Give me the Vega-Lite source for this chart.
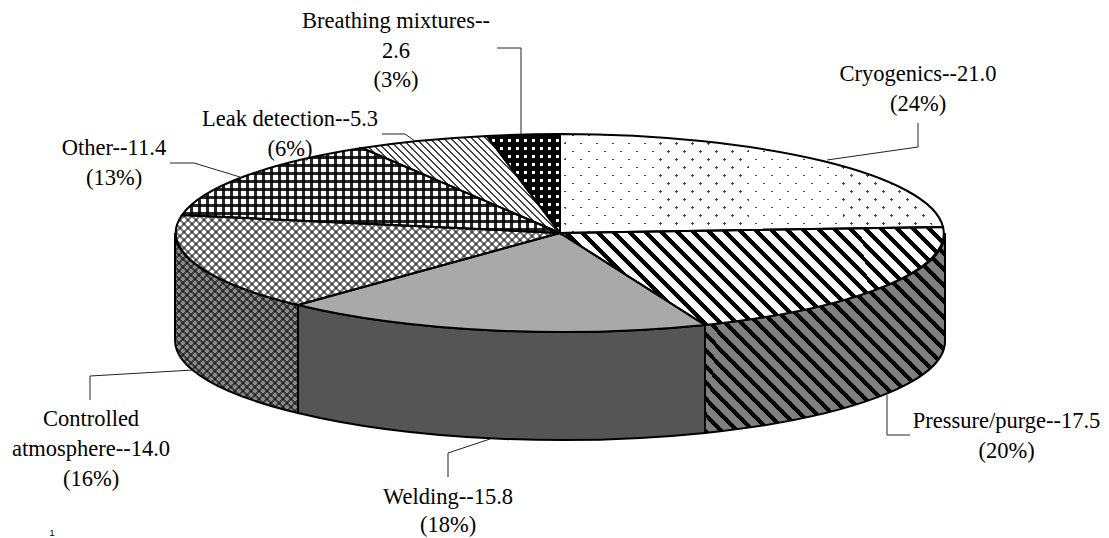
{
"$schema":"https://vega.github.io/schema/vega-lite/v6.json",
"width":1109,"height":538,"padding":0,"autosize":{"type":"none"},"background":"#ffffff",
"config":{"view":{"stroke":null},"axis":{"disable":true},"legend":{"disable":true}},
"data":{"values":[
{"slice":"Cryogenics","value":21.0,"share":24,"label":"Cryogenics--21.0\n(24%)"},
{"slice":"Pressure/purge","value":17.5,"share":20,"label":"Pressure/purge--17.5\n(20%)"},
{"slice":"Welding","value":15.8,"share":18,"label":"Welding--15.8\n(18%)"},
{"slice":"Controlled atmosphere","value":14.0,"share":16,"label":"Controlled\natmosphere--14.0\n(16%)"},
{"slice":"Other","value":11.4,"share":13,"label":"Other--11.4\n(13%)"},
{"slice":"Leak detection","value":5.3,"share":6,"label":"Leak detection--5.3\n(6%)"},
{"slice":"Breathing mixtures","value":2.6,"share":3,"label":"Breathing mixtures--\n2.6\n(3%)"}
]},
"params":[
{"name":"A","value":[
{"offset":0,"color":"#000"},{"offset":0.006,"color":"#000"},{"offset":0.006,"color":"#0000"},{"offset":0.016,"color":"#0000"},
{"offset":0.016,"color":"#000"},{"offset":0.022,"color":"#000"},{"offset":0.022,"color":"#0000"},{"offset":0.032,"color":"#0000"},
{"offset":0.032,"color":"#000"},{"offset":0.038,"color":"#000"},{"offset":0.038,"color":"#0000"},{"offset":0.048,"color":"#0000"},
{"offset":0.048,"color":"#000"},{"offset":0.054,"color":"#000"},{"offset":0.054,"color":"#0000"},{"offset":0.064,"color":"#0000"},
{"offset":0.064,"color":"#000"},{"offset":0.07,"color":"#000"},{"offset":0.07,"color":"#0000"},{"offset":0.08,"color":"#0000"},
{"offset":0.08,"color":"#000"},{"offset":0.086,"color":"#000"},{"offset":0.086,"color":"#0000"},{"offset":0.096,"color":"#0000"},
{"offset":0.096,"color":"#000"},{"offset":0.102,"color":"#000"},{"offset":0.102,"color":"#0000"},{"offset":0.112,"color":"#0000"},
{"offset":0.112,"color":"#000"},{"offset":0.118,"color":"#000"},{"offset":0.118,"color":"#0000"},{"offset":0.128,"color":"#0000"},
{"offset":0.128,"color":"#000"},{"offset":0.134,"color":"#000"},{"offset":0.134,"color":"#0000"},{"offset":0.144,"color":"#0000"},
{"offset":0.144,"color":"#000"},{"offset":0.15,"color":"#000"},{"offset":0.15,"color":"#0000"},{"offset":0.16,"color":"#0000"},
{"offset":0.16,"color":"#000"},{"offset":0.166,"color":"#000"},{"offset":0.166,"color":"#0000"},{"offset":0.176,"color":"#0000"},
{"offset":0.176,"color":"#000"},{"offset":0.182,"color":"#000"},{"offset":0.182,"color":"#0000"},{"offset":0.192,"color":"#0000"},
{"offset":0.192,"color":"#000"},{"offset":0.198,"color":"#000"},{"offset":0.198,"color":"#0000"},{"offset":0.208,"color":"#0000"},
{"offset":0.208,"color":"#000"},{"offset":0.214,"color":"#000"},{"offset":0.214,"color":"#0000"},{"offset":0.224,"color":"#0000"},
{"offset":0.224,"color":"#000"},{"offset":0.23,"color":"#000"},{"offset":0.23,"color":"#0000"},{"offset":0.24,"color":"#0000"},
{"offset":0.24,"color":"#000"},{"offset":0.246,"color":"#000"},{"offset":0.246,"color":"#0000"},{"offset":0.256,"color":"#0000"},
{"offset":0.256,"color":"#000"},{"offset":0.262,"color":"#000"},{"offset":0.262,"color":"#0000"},{"offset":0.272,"color":"#0000"},
{"offset":0.272,"color":"#000"},{"offset":0.278,"color":"#000"},{"offset":0.278,"color":"#0000"},{"offset":0.288,"color":"#0000"},
{"offset":0.288,"color":"#000"},{"offset":0.294,"color":"#000"},{"offset":0.294,"color":"#0000"},{"offset":0.304,"color":"#0000"},
{"offset":0.304,"color":"#000"},{"offset":0.31,"color":"#000"},{"offset":0.31,"color":"#0000"},{"offset":0.32,"color":"#0000"},
{"offset":0.32,"color":"#000"},{"offset":0.326,"color":"#000"},{"offset":0.326,"color":"#0000"},{"offset":0.336,"color":"#0000"},
{"offset":0.336,"color":"#000"},{"offset":0.342,"color":"#000"},{"offset":0.342,"color":"#0000"},{"offset":0.352,"color":"#0000"},
{"offset":0.352,"color":"#000"},{"offset":0.358,"color":"#000"},{"offset":0.358,"color":"#0000"},{"offset":0.368,"color":"#0000"},
{"offset":0.368,"color":"#000"},{"offset":0.374,"color":"#000"},{"offset":0.374,"color":"#0000"},{"offset":0.384,"color":"#0000"},
{"offset":0.384,"color":"#000"},{"offset":0.39,"color":"#000"},{"offset":0.39,"color":"#0000"},{"offset":0.4,"color":"#0000"},
{"offset":0.4,"color":"#000"},{"offset":0.406,"color":"#000"},{"offset":0.406,"color":"#0000"},{"offset":0.416,"color":"#0000"},
{"offset":0.416,"color":"#000"},{"offset":0.422,"color":"#000"},{"offset":0.422,"color":"#0000"},{"offset":0.432,"color":"#0000"},
{"offset":0.432,"color":"#000"},{"offset":0.438,"color":"#000"},{"offset":0.438,"color":"#0000"},{"offset":0.448,"color":"#0000"},
{"offset":0.448,"color":"#000"},{"offset":0.454,"color":"#000"},{"offset":0.454,"color":"#0000"},{"offset":0.464,"color":"#0000"},
{"offset":0.464,"color":"#000"},{"offset":0.47,"color":"#000"},{"offset":0.47,"color":"#0000"},{"offset":0.48,"color":"#0000"},
{"offset":0.48,"color":"#000"},{"offset":0.486,"color":"#000"},{"offset":0.486,"color":"#0000"},{"offset":0.496,"color":"#0000"},
{"offset":0.496,"color":"#000"},{"offset":0.502,"color":"#000"},{"offset":0.502,"color":"#0000"},{"offset":0.512,"color":"#0000"},
{"offset":0.512,"color":"#000"},{"offset":0.518,"color":"#000"},{"offset":0.518,"color":"#0000"},{"offset":0.528,"color":"#0000"},
{"offset":0.528,"color":"#000"},{"offset":0.534,"color":"#000"},{"offset":0.534,"color":"#0000"},{"offset":0.544,"color":"#0000"},
{"offset":0.544,"color":"#000"},{"offset":0.55,"color":"#000"},{"offset":0.55,"color":"#0000"},{"offset":0.56,"color":"#0000"},
{"offset":0.56,"color":"#000"},{"offset":0.566,"color":"#000"},{"offset":0.566,"color":"#0000"},{"offset":0.576,"color":"#0000"},
{"offset":0.576,"color":"#000"},{"offset":0.582,"color":"#000"},{"offset":0.582,"color":"#0000"},{"offset":0.592,"color":"#0000"},
{"offset":0.592,"color":"#000"},{"offset":0.598,"color":"#000"},{"offset":0.598,"color":"#0000"},{"offset":0.608,"color":"#0000"},
{"offset":0.608,"color":"#000"},{"offset":0.614,"color":"#000"},{"offset":0.614,"color":"#0000"},{"offset":0.624,"color":"#0000"},
{"offset":0.624,"color":"#000"},{"offset":0.63,"color":"#000"},{"offset":0.63,"color":"#0000"},{"offset":0.64,"color":"#0000"},
{"offset":0.64,"color":"#000"},{"offset":0.646,"color":"#000"},{"offset":0.646,"color":"#0000"},{"offset":0.656,"color":"#0000"},
{"offset":0.656,"color":"#000"},{"offset":0.662,"color":"#000"},{"offset":0.662,"color":"#0000"},{"offset":0.672,"color":"#0000"},
{"offset":0.672,"color":"#000"},{"offset":0.678,"color":"#000"},{"offset":0.678,"color":"#0000"},{"offset":0.688,"color":"#0000"},
{"offset":0.688,"color":"#000"},{"offset":0.694,"color":"#000"},{"offset":0.694,"color":"#0000"},{"offset":0.704,"color":"#0000"},
{"offset":0.704,"color":"#000"},{"offset":0.71,"color":"#000"},{"offset":0.71,"color":"#0000"},{"offset":0.72,"color":"#0000"},
{"offset":0.72,"color":"#000"},{"offset":0.726,"color":"#000"},{"offset":0.726,"color":"#0000"},{"offset":0.736,"color":"#0000"},
{"offset":0.736,"color":"#000"},{"offset":0.742,"color":"#000"},{"offset":0.742,"color":"#0000"},{"offset":0.752,"color":"#0000"},
{"offset":0.752,"color":"#000"},{"offset":0.758,"color":"#000"},{"offset":0.758,"color":"#0000"},{"offset":0.768,"color":"#0000"},
{"offset":0.768,"color":"#000"},{"offset":0.774,"color":"#000"},{"offset":0.774,"color":"#0000"},{"offset":0.784,"color":"#0000"},
{"offset":0.784,"color":"#000"},{"offset":0.79,"color":"#000"},{"offset":0.79,"color":"#0000"},{"offset":0.8,"color":"#0000"},
{"offset":0.8,"color":"#000"},{"offset":0.806,"color":"#000"},{"offset":0.806,"color":"#0000"},{"offset":0.816,"color":"#0000"},
{"offset":0.816,"color":"#000"},{"offset":0.822,"color":"#000"},{"offset":0.822,"color":"#0000"},{"offset":0.832,"color":"#0000"},
{"offset":0.832,"color":"#000"},{"offset":0.838,"color":"#000"},{"offset":0.838,"color":"#0000"},{"offset":0.848,"color":"#0000"},
{"offset":0.848,"color":"#000"},{"offset":0.854,"color":"#000"},{"offset":0.854,"color":"#0000"},{"offset":0.864,"color":"#0000"},
{"offset":0.864,"color":"#000"},{"offset":0.87,"color":"#000"},{"offset":0.87,"color":"#0000"},{"offset":0.88,"color":"#0000"},
{"offset":0.88,"color":"#000"},{"offset":0.886,"color":"#000"},{"offset":0.886,"color":"#0000"},{"offset":0.896,"color":"#0000"},
{"offset":0.896,"color":"#000"},{"offset":0.902,"color":"#000"},{"offset":0.902,"color":"#0000"},{"offset":0.912,"color":"#0000"},
{"offset":0.912,"color":"#000"},{"offset":0.918,"color":"#000"},{"offset":0.918,"color":"#0000"},{"offset":0.928,"color":"#0000"},
{"offset":0.928,"color":"#000"},{"offset":0.934,"color":"#000"},{"offset":0.934,"color":"#0000"},{"offset":0.944,"color":"#0000"},
{"offset":0.944,"color":"#000"},{"offset":0.95,"color":"#000"},{"offset":0.95,"color":"#0000"},{"offset":0.96,"color":"#0000"},
{"offset":0.96,"color":"#000"},{"offset":0.966,"color":"#000"},{"offset":0.966,"color":"#0000"},{"offset":0.976,"color":"#0000"},
{"offset":0.976,"color":"#000"},{"offset":0.982,"color":"#000"},{"offset":0.982,"color":"#0000"},{"offset":0.992,"color":"#0000"}
]},
{"name":"B","value":[
{"offset":0,"color":"#fff"},{"offset":0.027,"color":"#fff"},{"offset":0.027,"color":"#fff0"},{"offset":0.032,"color":"#fff0"},
{"offset":0.032,"color":"#fff"},{"offset":0.059,"color":"#fff"},{"offset":0.059,"color":"#fff0"},{"offset":0.064,"color":"#fff0"},
{"offset":0.064,"color":"#fff"},{"offset":0.091,"color":"#fff"},{"offset":0.091,"color":"#fff0"},{"offset":0.096,"color":"#fff0"},
{"offset":0.096,"color":"#fff"},{"offset":0.123,"color":"#fff"},{"offset":0.123,"color":"#fff0"},{"offset":0.128,"color":"#fff0"},
{"offset":0.128,"color":"#fff"},{"offset":0.155,"color":"#fff"},{"offset":0.155,"color":"#fff0"},{"offset":0.16,"color":"#fff0"},
{"offset":0.16,"color":"#fff"},{"offset":0.187,"color":"#fff"},{"offset":0.187,"color":"#fff0"},{"offset":0.192,"color":"#fff0"},
{"offset":0.192,"color":"#fff"},{"offset":0.219,"color":"#fff"},{"offset":0.219,"color":"#fff0"},{"offset":0.224,"color":"#fff0"},
{"offset":0.224,"color":"#fff"},{"offset":0.251,"color":"#fff"},{"offset":0.251,"color":"#fff0"},{"offset":0.256,"color":"#fff0"},
{"offset":0.256,"color":"#fff"},{"offset":0.283,"color":"#fff"},{"offset":0.283,"color":"#fff0"},{"offset":0.288,"color":"#fff0"},
{"offset":0.288,"color":"#fff"},{"offset":0.315,"color":"#fff"},{"offset":0.315,"color":"#fff0"},{"offset":0.32,"color":"#fff0"},
{"offset":0.32,"color":"#fff"},{"offset":0.347,"color":"#fff"},{"offset":0.347,"color":"#fff0"},{"offset":0.352,"color":"#fff0"},
{"offset":0.352,"color":"#fff"},{"offset":0.379,"color":"#fff"},{"offset":0.379,"color":"#fff0"},{"offset":0.384,"color":"#fff0"},
{"offset":0.384,"color":"#fff"},{"offset":0.411,"color":"#fff"},{"offset":0.411,"color":"#fff0"},{"offset":0.416,"color":"#fff0"},
{"offset":0.416,"color":"#fff"},{"offset":0.443,"color":"#fff"},{"offset":0.443,"color":"#fff0"},{"offset":0.448,"color":"#fff0"},
{"offset":0.448,"color":"#fff"},{"offset":0.475,"color":"#fff"},{"offset":0.475,"color":"#fff0"},{"offset":0.48,"color":"#fff0"},
{"offset":0.48,"color":"#fff"},{"offset":0.507,"color":"#fff"},{"offset":0.507,"color":"#fff0"},{"offset":0.512,"color":"#fff0"},
{"offset":0.512,"color":"#fff"},{"offset":0.539,"color":"#fff"},{"offset":0.539,"color":"#fff0"},{"offset":0.544,"color":"#fff0"},
{"offset":0.544,"color":"#fff"},{"offset":0.571,"color":"#fff"},{"offset":0.571,"color":"#fff0"},{"offset":0.576,"color":"#fff0"},
{"offset":0.576,"color":"#fff"},{"offset":0.603,"color":"#fff"},{"offset":0.603,"color":"#fff0"},{"offset":0.608,"color":"#fff0"},
{"offset":0.608,"color":"#fff"},{"offset":0.635,"color":"#fff"},{"offset":0.635,"color":"#fff0"},{"offset":0.64,"color":"#fff0"},
{"offset":0.64,"color":"#fff"},{"offset":0.667,"color":"#fff"},{"offset":0.667,"color":"#fff0"},{"offset":0.672,"color":"#fff0"},
{"offset":0.672,"color":"#fff"},{"offset":0.699,"color":"#fff"},{"offset":0.699,"color":"#fff0"},{"offset":0.704,"color":"#fff0"},
{"offset":0.704,"color":"#fff"},{"offset":0.731,"color":"#fff"},{"offset":0.731,"color":"#fff0"},{"offset":0.736,"color":"#fff0"},
{"offset":0.736,"color":"#fff"},{"offset":0.763,"color":"#fff"},{"offset":0.763,"color":"#fff0"},{"offset":0.768,"color":"#fff0"},
{"offset":0.768,"color":"#fff"},{"offset":0.795,"color":"#fff"},{"offset":0.795,"color":"#fff0"},{"offset":0.8,"color":"#fff0"},
{"offset":0.8,"color":"#fff"},{"offset":0.827,"color":"#fff"},{"offset":0.827,"color":"#fff0"},{"offset":0.832,"color":"#fff0"},
{"offset":0.832,"color":"#fff"},{"offset":0.859,"color":"#fff"},{"offset":0.859,"color":"#fff0"},{"offset":0.864,"color":"#fff0"},
{"offset":0.864,"color":"#fff"},{"offset":0.891,"color":"#fff"},{"offset":0.891,"color":"#fff0"},{"offset":0.896,"color":"#fff0"},
{"offset":0.896,"color":"#fff"},{"offset":0.923,"color":"#fff"},{"offset":0.923,"color":"#fff0"},{"offset":0.928,"color":"#fff0"},
{"offset":0.928,"color":"#fff"},{"offset":0.955,"color":"#fff"},{"offset":0.955,"color":"#fff0"},{"offset":0.96,"color":"#fff0"},
{"offset":0.96,"color":"#fff"},{"offset":0.987,"color":"#fff"},{"offset":0.987,"color":"#fff0"},{"offset":0.992,"color":"#fff0"},
{"offset":0.992,"color":"#fff"},{"offset":1,"color":"#fff"}
]},
{"name":"C","value":[
{"offset":0,"color":"#000"},{"offset":0.05,"color":"#000"},{"offset":0.05,"color":"#0000"},{"offset":0.08,"color":"#0000"},
{"offset":0.08,"color":"#000"},{"offset":0.13,"color":"#000"},{"offset":0.13,"color":"#0000"},{"offset":0.16,"color":"#0000"},
{"offset":0.16,"color":"#000"},{"offset":0.21,"color":"#000"},{"offset":0.21,"color":"#0000"},{"offset":0.24,"color":"#0000"},
{"offset":0.24,"color":"#000"},{"offset":0.29,"color":"#000"},{"offset":0.29,"color":"#0000"},{"offset":0.32,"color":"#0000"},
{"offset":0.32,"color":"#000"},{"offset":0.37,"color":"#000"},{"offset":0.37,"color":"#0000"},{"offset":0.4,"color":"#0000"},
{"offset":0.4,"color":"#000"},{"offset":0.45,"color":"#000"},{"offset":0.45,"color":"#0000"},{"offset":0.48,"color":"#0000"},
{"offset":0.48,"color":"#000"},{"offset":0.53,"color":"#000"},{"offset":0.53,"color":"#0000"},{"offset":0.56,"color":"#0000"},
{"offset":0.56,"color":"#000"},{"offset":0.61,"color":"#000"},{"offset":0.61,"color":"#0000"},{"offset":0.64,"color":"#0000"},
{"offset":0.64,"color":"#000"},{"offset":0.69,"color":"#000"},{"offset":0.69,"color":"#0000"},{"offset":0.72,"color":"#0000"},
{"offset":0.72,"color":"#000"},{"offset":0.77,"color":"#000"},{"offset":0.77,"color":"#0000"},{"offset":0.8,"color":"#0000"},
{"offset":0.8,"color":"#000"},{"offset":0.85,"color":"#000"},{"offset":0.85,"color":"#0000"},{"offset":0.88,"color":"#0000"},
{"offset":0.88,"color":"#000"},{"offset":0.93,"color":"#000"},{"offset":0.93,"color":"#0000"},{"offset":0.96,"color":"#0000"},
{"offset":0.96,"color":"#000"},{"offset":1,"color":"#000"}
]},
{"name":"topPath","value":{
"Cryogenics":"M0,0 L0,-99 A385,99 0 0 1 383,-6 Z",
"Pressure/purge":"M0,0 L383,-6 A385,99 0 0 1 145,92 Z",
"Welding":"M0,0 L145,92 A385,99 0 0 1 -262,72 Z",
"Controlled atmosphere":"M0,0 L-262,72 A385,99 0 0 1 -378,-18 Z",
"Other":"M0,0 L-378,-18 A385,99 0 0 1 -198,-85 Z",
"Leak detection":"M0,0 L-198,-85 A385,99 0 0 1 -73,-97 Z",
"Breathing mixtures":"M0,0 L-73,-97 A385,99 0 0 1 0,-99 Z"
}},
{"name":"sidePath","value":{
"Pressure/purge":"M385,0 L385,108 A385,99 0 0 1 145,200 L145,92 A385,99 0 0 0 385,0 Z",
"Welding":"M145,92 L145,200 A385,99 0 0 1 -262,180 L-262,72 A385,99 0 0 0 145,92 Z",
"Controlled atmosphere":"M-262,72 L-262,180 A385,99 0 0 1 -385,108 L-385,0 A385,99 0 0 0 -262,72 Z"
}},
{"name":"leaderPath","value":{
"Breathing mixtures":"M-39,-99 L-39,-185 L-63,-185",
"Cryogenics":"M267,-73 L358,-86 L358,-110",
"Leak detection":"M-145,-92 L-155,-99 L-178,-99",
"Other":"M-320,-56 L-366,-70 L-390,-70",
"Controlled atmosphere":"M-367,137 L-470,143 L-470,167",
"Welding":"M-70,206 L-112,220 L-112,244",
"Pressure/purge":"M327,162 L327,202 L350,202"
}},
{"name":"topBase","value":{"Cryogenics":"#444444","Pressure/purge":"#ffffff","Welding":"#a9a9a9","Controlled atmosphere":"#ffffff","Other":"#ffffff","Leak detection":"#ffffff","Breathing mixtures":"#ffffff"}},
{"name":"sideBase","value":{"Pressure/purge":"#808080","Welding":"#555555","Controlled atmosphere":"#8a8a8a"}},
{"name":"opa","value":{"Controlled atmosphere":0.5,"Leak detection":0.75,"Other":0.85}},
{"name":"top1","expr":"{'Cryogenics':{gradient:'linear',x1:0,y1:1,x2:1.218,y2:0.687,stops:B},'Pressure/purge':{gradient:'linear',x1:0,y1:1,x2:2.439,y2:0.379,stops:A},'Controlled atmosphere':{gradient:'linear',x1:0,y1:1,x2:1.232,y2:0.712,stops:A},'Other':{gradient:'linear',x1:0,y1:0,x2:1.323,y2:0,stops:A},'Leak detection':{gradient:'linear',x1:0,y1:1,x2:1.782,y2:0.127,stops:A},'Breathing mixtures':{gradient:'linear',x1:0,y1:0,x2:1.37,y2:0,stops:C}}"},
{"name":"top2","expr":"{'Cryogenics':{gradient:'linear',x1:0,y1:0,x2:1.218,y2:0.313,stops:B},'Controlled atmosphere':{gradient:'linear',x1:0,y1:0,x2:1.232,y2:0.288,stops:A},'Other':{gradient:'linear',x1:0,y1:0,x2:0,y2:5.88,stops:A},'Breathing mixtures':{gradient:'linear',x1:0,y1:0,x2:0,y2:1.01,stops:C}}"},
{"name":"side1","expr":"{'Pressure/purge':{gradient:'linear',x1:0,y1:1,x2:2.459,y2:-1.049,stops:A},'Controlled atmosphere':{gradient:'linear',x1:0,y1:1,x2:1.294,y2:-0.894,stops:A}}"},
{"name":"side2","expr":"{'Controlled atmosphere':{gradient:'linear',x1:0,y1:0,x2:1.294,y2:1.894,stops:A}}"}
],
"encoding":{
"x":{"datum":0,"type":"quantitative","scale":{"domain":[-560,549]}},
"y":{"datum":0,"type":"quantitative","scale":{"domain":[-233,305],"reverse":true}}
},
"layer":[
{"transform":[{"filter":"sidePath[datum.slice]"}],"mark":{"type":"point","filled":true,"opacity":1},
 "encoding":{"size":{"value":4},"shape":{"value":{"expr":"sidePath[datum.slice]"}},"fill":{"value":{"expr":"sideBase[datum.slice]"}},"strokeWidth":{"value":0}}},
{"transform":[{"filter":"side1[datum.slice]"}],"mark":{"type":"point","filled":true,"opacity":1},
 "encoding":{"size":{"value":4},"shape":{"value":{"expr":"sidePath[datum.slice]"}},"fill":{"value":{"expr":"side1[datum.slice]"}},"fillOpacity":{"value":{"expr":"opa[datum.slice]||1"}},"strokeWidth":{"value":0}}},
{"transform":[{"filter":"side2[datum.slice]"}],"mark":{"type":"point","filled":true,"opacity":1},
 "encoding":{"size":{"value":4},"shape":{"value":{"expr":"sidePath[datum.slice]"}},"fill":{"value":{"expr":"side2[datum.slice]"}},"fillOpacity":{"value":{"expr":"opa[datum.slice]||1"}},"strokeWidth":{"value":0}}},
{"transform":[{"filter":"sidePath[datum.slice]"}],"mark":{"type":"point","opacity":1,"fill":"transparent"},
 "encoding":{"size":{"value":4},"shape":{"value":{"expr":"sidePath[datum.slice]"}},"stroke":{"value":"#000000"},"strokeWidth":{"value":2}}},
{"mark":{"type":"point","filled":true,"opacity":1},
 "encoding":{"size":{"value":4},"shape":{"value":{"expr":"topPath[datum.slice]"}},"fill":{"value":{"expr":"topBase[datum.slice]"}},"strokeWidth":{"value":0}}},
{"transform":[{"filter":"top1[datum.slice]"}],"mark":{"type":"point","filled":true,"opacity":1},
 "encoding":{"size":{"value":4},"shape":{"value":{"expr":"topPath[datum.slice]"}},"fill":{"value":{"expr":"top1[datum.slice]"}},"fillOpacity":{"value":{"expr":"opa[datum.slice]||1"}},"strokeWidth":{"value":0}}},
{"transform":[{"filter":"top2[datum.slice]"}],"mark":{"type":"point","filled":true,"opacity":1},
 "encoding":{"size":{"value":4},"shape":{"value":{"expr":"topPath[datum.slice]"}},"fill":{"value":{"expr":"top2[datum.slice]"}},"fillOpacity":{"value":{"expr":"opa[datum.slice]||1"}},"strokeWidth":{"value":0}}},
{"mark":{"type":"point","opacity":1,"fill":"transparent"},
 "encoding":{"size":{"value":4},"shape":{"value":{"expr":"topPath[datum.slice]"}},"stroke":{"value":"#000000"},"strokeWidth":{"value":2}}},
{"mark":{"type":"point","opacity":1,"fill":"transparent"},
 "encoding":{"size":{"value":4},"shape":{"value":{"expr":"leaderPath[datum.slice]"}},"stroke":{"value":"#222222"},"strokeWidth":{"value":1}}},
{"transform":[{"filter":"datum.slice==='Breathing mixtures'"}],"mark":{"type":"text","font":"Liberation Serif","fontSize":22.5,"lineBreak":"\n","lineHeight":29.5,"baseline":"top","align":"center","color":"#000"},
 "encoding":{"text":{"field":"label"},"x":{"datum":-164,"type":"quantitative","scale":{"domain":[-560,549]}},"y":{"datum":-223,"type":"quantitative","scale":{"domain":[-233,305],"reverse":true}}}},
{"transform":[{"filter":"datum.slice==='Cryogenics'"}],"mark":{"type":"text","font":"Liberation Serif","fontSize":22.5,"lineBreak":"\n","lineHeight":30,"baseline":"top","align":"center","color":"#000"},
 "encoding":{"text":{"field":"label"},"x":{"datum":358,"type":"quantitative","scale":{"domain":[-560,549]}},"y":{"datum":-170,"type":"quantitative","scale":{"domain":[-233,305],"reverse":true}}}},
{"transform":[{"filter":"datum.slice==='Leak detection'"}],"mark":{"type":"text","font":"Liberation Serif","fontSize":22.5,"lineBreak":"\n","lineHeight":30,"baseline":"top","align":"center","color":"#000"},
 "encoding":{"text":{"field":"label"},"x":{"datum":-270,"type":"quantitative","scale":{"domain":[-560,549]}},"y":{"datum":-125,"type":"quantitative","scale":{"domain":[-233,305],"reverse":true}}}},
{"transform":[{"filter":"datum.slice==='Other'"}],"mark":{"type":"text","font":"Liberation Serif","fontSize":22.5,"lineBreak":"\n","lineHeight":30,"baseline":"top","align":"center","color":"#000"},
 "encoding":{"text":{"field":"label"},"x":{"datum":-446,"type":"quantitative","scale":{"domain":[-560,549]}},"y":{"datum":-96,"type":"quantitative","scale":{"domain":[-233,305],"reverse":true}}}},
{"transform":[{"filter":"datum.slice==='Controlled atmosphere'"}],"mark":{"type":"text","font":"Liberation Serif","fontSize":22.5,"lineBreak":"\n","lineHeight":30,"baseline":"top","align":"center","color":"#000"},
 "encoding":{"text":{"field":"label"},"x":{"datum":-469,"type":"quantitative","scale":{"domain":[-560,549]}},"y":{"datum":175,"type":"quantitative","scale":{"domain":[-233,305],"reverse":true}}}},
{"transform":[{"filter":"datum.slice==='Welding'"}],"mark":{"type":"text","font":"Liberation Serif","fontSize":22.5,"lineBreak":"\n","lineHeight":28,"baseline":"top","align":"center","color":"#000"},
 "encoding":{"text":{"field":"label"},"x":{"datum":-112,"type":"quantitative","scale":{"domain":[-560,549]}},"y":{"datum":253,"type":"quantitative","scale":{"domain":[-233,305],"reverse":true}}}},
{"transform":[{"filter":"datum.slice==='Pressure/purge'"}],"mark":{"type":"text","font":"Liberation Serif","fontSize":22.5,"lineBreak":"\n","lineHeight":30,"baseline":"top","align":"center","color":"#000"},
 "encoding":{"text":{"field":"label"},"x":{"datum":446.5,"type":"quantitative","scale":{"domain":[-560,549]}},"y":{"datum":177,"type":"quantitative","scale":{"domain":[-233,305],"reverse":true}}}},
{"data":{"values":[{"note":"1"}]},"mark":{"type":"text","font":"Liberation Sans","fontSize":9,"baseline":"bottom","align":"center","color":"#000"},
 "encoding":{"text":{"field":"note"},"x":{"datum":-508,"type":"quantitative","scale":{"domain":[-560,549]}},"y":{"datum":305,"type":"quantitative","scale":{"domain":[-233,305],"reverse":true}}}}
]
}
